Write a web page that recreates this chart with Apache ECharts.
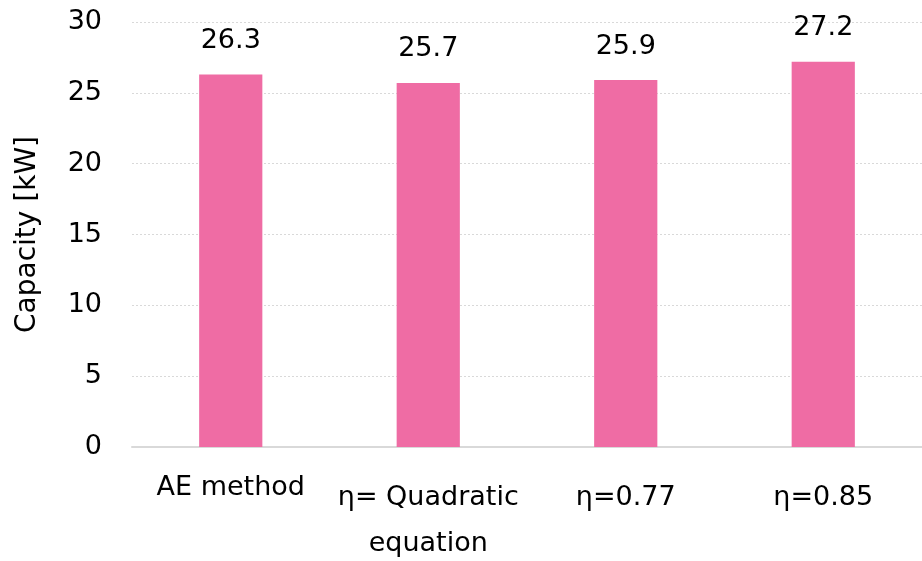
<!DOCTYPE html>
<html>
<head>
<meta charset="utf-8">
<script src="https://cdn.jsdelivr.net/npm/echarts@6/dist/echarts.min.js"></script>
<style>
  html, body { margin: 0; padding: 0; background: #fff; }
  #chart { width: 922px; height: 561px; }
</style>
</head>
<body>
<div id="chart"></div>
<script>
// Cooling capacity estimated by each method
const categories = ['AE method', 'η= Quadratic\nequation', 'η=0.77', 'η=0.85'];
const capacity = [26.3, 25.7, 25.9, 27.2];
const yTicks = [0, 5, 10, 15, 20, 25, 30];

const FONT = '"DejaVu Sans", Verdana, sans-serif';
const chart = echarts.init(document.getElementById('chart'), null, { renderer: 'canvas' });

// η labels sit a little lower than the plain text label
function catLabel(value) {
  const style = value.indexOf('η') >= 0 ? 'eta' : 'plain';
  return value.split('\n').map(line => '{' + style + '|' + line + '}').join('\n');
}

chart.setOption({
  animation: false,
  textStyle: { fontFamily: FONT },
  grid: {
    left: 132, right: 0, top: 22, bottom: 114,
    containLabel: false,
    outerBoundsMode: 'none'
  },
  xAxis: {
    type: 'category',
    data: categories,
    axisLine: { show: true, lineStyle: { color: '#d9d9d9', width: 2 } },
    axisTick: { show: false },
    axisLabel: {
      interval: 0,
      hideOverlap: false,
      color: '#000',
      fontSize: 27,
      fontFamily: FONT,
      margin: 28,
      formatter: catLabel,
      rich: {
        plain: { fontSize: 27, fontFamily: FONT, color: '#000', lineHeight: 26 },
        eta: { fontSize: 27, fontFamily: FONT, color: '#000', lineHeight: 46 }
      }
    }
  },
  yAxis: {
    type: 'value',
    min: yTicks[0],
    max: yTicks[yTicks.length - 1],
    interval: yTicks[1] - yTicks[0],
    name: 'Capacity [kW]',
    nameLocation: 'middle',
    nameGap: 90,
    nameTextStyle: { color: '#000', fontSize: 28, fontFamily: FONT },
    axisLine: { show: false },
    axisTick: { show: false },
    axisLabel: { color: '#000', fontSize: 27, fontFamily: FONT, margin: 30 },
    splitLine: { show: true, lineStyle: { color: '#d9d9d9', type: [2, 2], width: 1 } }
  },
  series: [{
    type: 'bar',
    data: capacity,
    barWidth: '32%',
    itemStyle: { color: '#ef6ca4' },
    label: {
      show: true,
      position: 'top',
      distance: 20,
      color: '#000',
      fontSize: 27,
      fontFamily: FONT,
      formatter: p => p.value.toFixed(1)
    }
  }]
});
</script>
</body>
</html>
